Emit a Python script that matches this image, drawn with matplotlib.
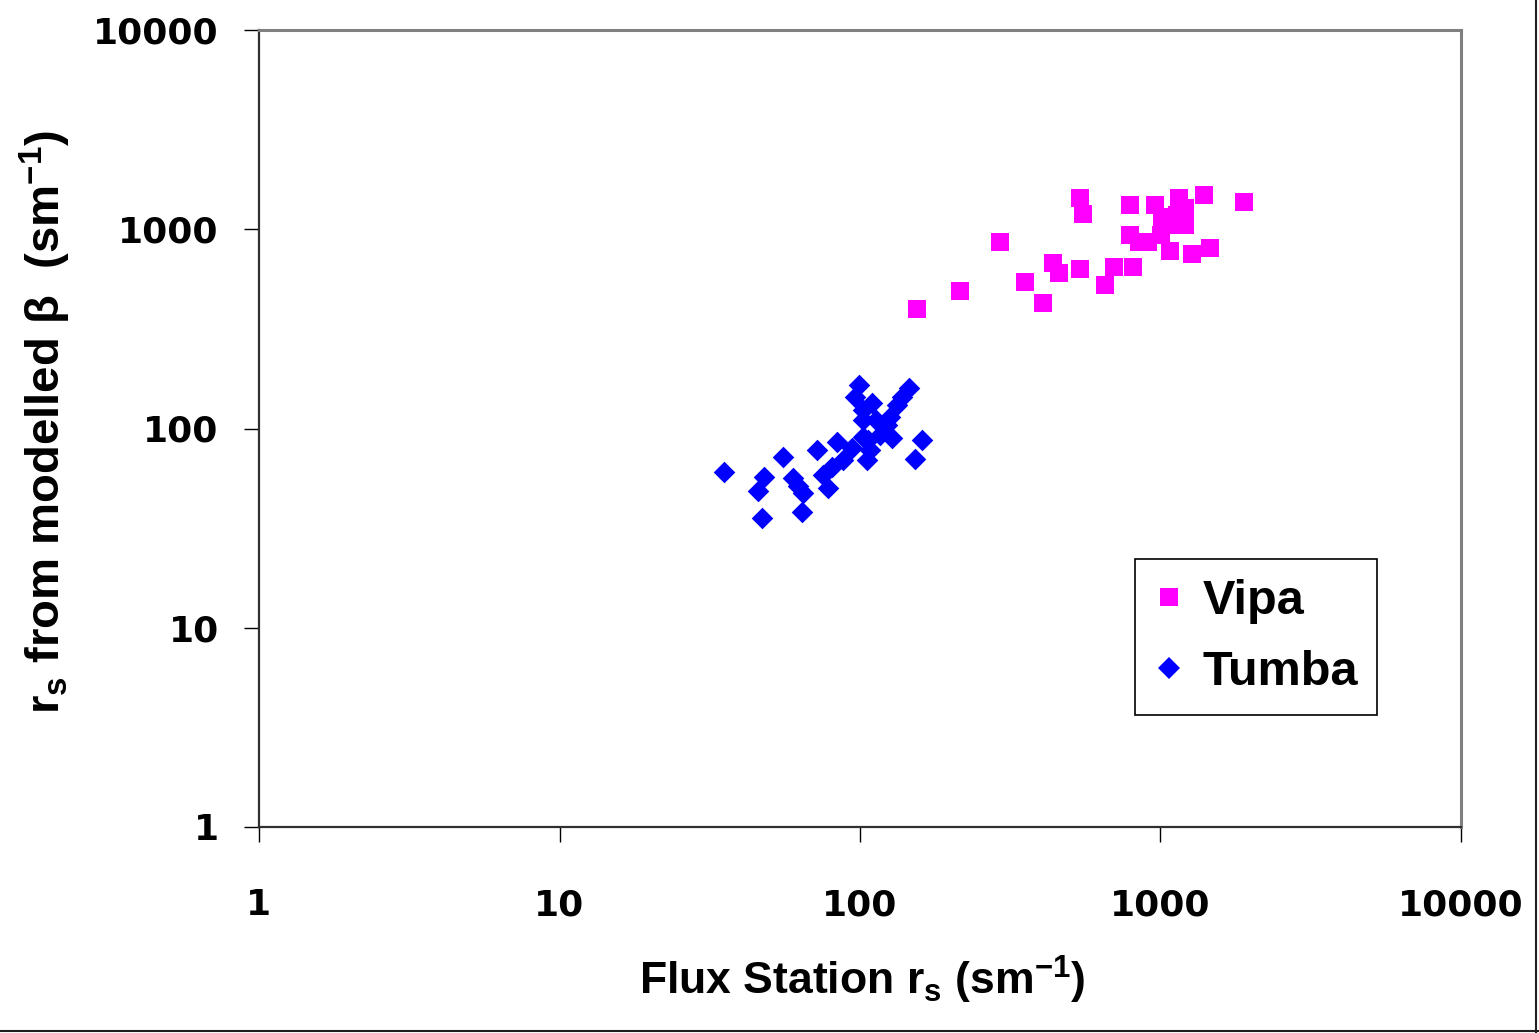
import matplotlib
matplotlib.use("Agg")
import matplotlib.pyplot as plt
from matplotlib.lines import Line2D

plt.rcParams['mathtext.default'] = 'regular'

# Vipa (pink squares): flux station rs vs rs from modelled beta
vipa_x = [155, 215, 292, 354, 406, 439, 459, 540, 552, 540, 654, 700, 810, 791, 791,
          848, 908, 959, 1004, 1076, 1011, 1153, 1135, 1207, 1207, 1135, 1273, 1396, 1462, 1897]
vipa_y = [397, 489, 861, 543, 426, 676, 602, 1432, 1191, 631, 524, 645, 645, 1321, 934,
          861, 861, 1321, 934, 776, 1150, 1432, 1177, 1276, 1049, 1049, 750, 1483, 804, 1368]

# Tumba (blue diamonds)
tumba_x = [35.3, 47.2, 45.8, 47.9, 55.4, 71.9, 59.8, 64.1, 64.6, 62.2, 78.3, 75.3, 80.7,
           83.8, 87.8, 94.0, 105.5, 108, 99.3, 96.2, 102.3, 102.3, 109.6, 102.3, 116.6,
           123, 128, 126, 133, 138, 146, 161, 152, 113, 106]
tumba_y = [60.4, 35.5, 48.5, 57.0, 71.9, 77.9, 56.4, 38.1, 47.4, 51.4, 50.2, 58.4, 64.0,
           85.5, 69.4, 79.7, 69.4, 77.9, 165, 144, 124, 110, 134, 90.6, 92.7,
           104, 89.5, 114, 131, 144, 160, 87.5, 70.2, 110, 87.5]

ticks = [1, 10, 100, 1000, 10000]
tick_labels = ["1", "10", "100", "1000", "10000"]

fig = plt.figure(figsize=(15.39, 10.33), dpi=100)
ax = fig.add_axes([259 / 1539, 1 - 827 / 1033, 1202 / 1539, 797 / 1033])

ax.scatter(vipa_x, vipa_y, marker='s', s=13 ** 2, color='#ff00ff', linewidths=0, zorder=3)
ax.scatter(tumba_x, tumba_y, marker='D', s=11 ** 2, color='#0000ff', linewidths=0, zorder=3)

ax.set_xscale('log')
ax.set_yscale('log')
ax.set_xlim(1, 10000)
ax.set_ylim(1, 10000)
ax.set_xticks(ticks)
ax.set_yticks(ticks)
ax.minorticks_off()
ax.set_xticklabels(tick_labels, family='DejaVu Sans', fontweight='bold', fontsize=26)
ax.set_yticklabels(tick_labels, family='DejaVu Sans', fontweight='bold', fontsize=26)
ax.tick_params(axis='x', direction='out', length=11, width=1, pad=33, color='black')
ax.tick_params(axis='y', direction='out', length=11, width=1, pad=18, color='black')

for side in ['top', 'right']:
    ax.spines[side].set_color('#808080')
    ax.spines[side].set_linewidth(2.2)
for side in ['left', 'bottom']:
    ax.spines[side].set_color('#303030')
    ax.spines[side].set_linewidth(1.6)

ax.set_xlabel('Flux Station r$_{s}$ (sm$^{-1}$)', family='Liberation Sans',
              fontweight='bold', fontsize=32, va='center')
ax.xaxis.set_label_coords(0.502, -0.192)
ax.set_ylabel('r$_{s}$ from modelled β  (sm$^{-1}$)', family='Liberation Sans',
              fontweight='bold', fontsize=34, va='center')
ax.yaxis.set_label_coords(-0.178, 0.508)

handles = [
    Line2D([], [], marker='s', linestyle='none', markersize=13, color='#ff00ff', markeredgewidth=0),
    Line2D([], [], marker='D', linestyle='none', markersize=11, color='#0000ff', markeredgewidth=0),
]
leg = ax.legend(handles, ['Vipa', 'Tumba'], loc='upper left',
                bbox_to_anchor=(0.729, 0.336), borderaxespad=0,
                prop={'family': 'Liberation Sans', 'weight': 'bold', 'size': 35},
                frameon=True, fancybox=False, edgecolor='black', framealpha=1,
                handlelength=0.6, handletextpad=0.38, labelspacing=0.55,
                borderpad=0.4)
leg.get_frame().set_linewidth(1.2)

# page border lines seen at the edges of the picture
fig.add_artist(Line2D([0, 1], [1 - 1031 / 1033] * 2, transform=fig.transFigure,
                      color='#202020', linewidth=1.5))
fig.add_artist(Line2D([1535.5 / 1539] * 2, [0, 1], transform=fig.transFigure,
                      color='#202020', linewidth=1.5))

fig.savefig('out.png', dpi=100)
